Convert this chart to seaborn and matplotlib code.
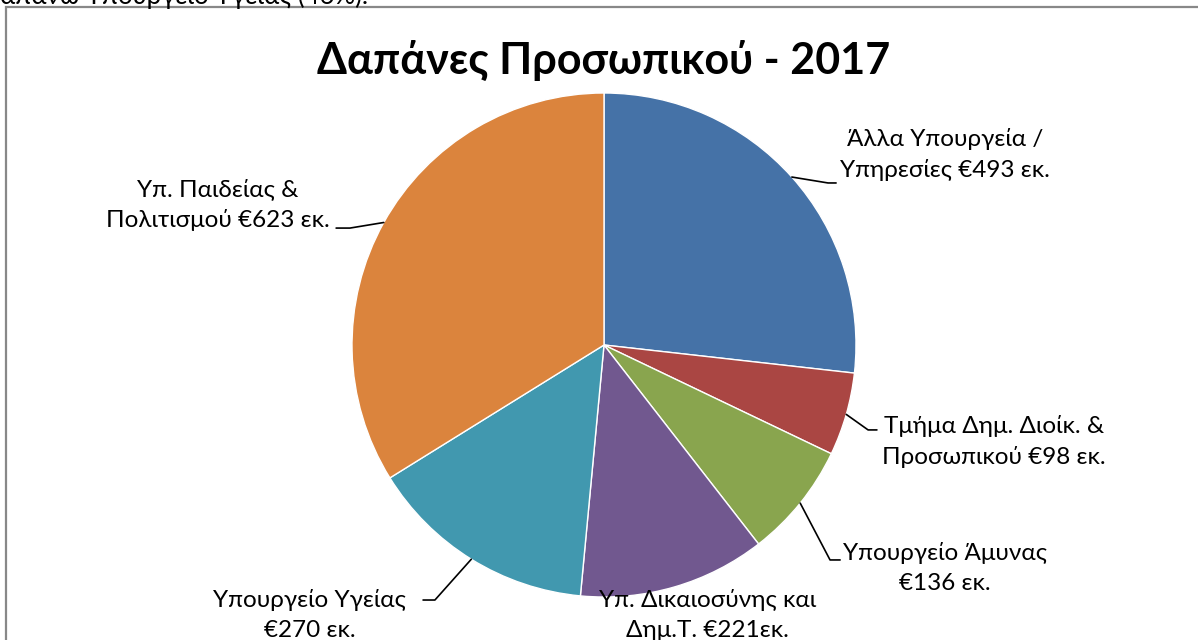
import numpy as np
import matplotlib
matplotlib.use('Agg')
import matplotlib.pyplot as plt
import seaborn as sns
from matplotlib.patches import Rectangle

# data
labels = ['Άλλα Υπουργεία /\nΥπηρεσίες €493 εκ.',
          'Τμήμα Δημ. Διοίκ. &\nΠροσωπικού €98 εκ.',
          'Υπουργείο Άμυνας\n€136 εκ.',
          'Υπ. Δικαιοσύνης και\nΔημ.Τ. €221εκ.',
          'Υπουργείο Υγείας\n€270 εκ.',
          'Υπ. Παιδείας &\nΠολιτισμού €623 εκ.']
values = [493, 98, 136, 221, 270, 623]
colors = ['#4572A7', '#AA4643', '#89A54E', '#71588F', '#4198AF', '#DB843D']
title = 'Δαπάνες Προσωπικού - 2017'

# label layout (text centre, leader elbow, leader end) in pie units
label_pos = [(1.353, 0.754), (1.548, -0.381), (1.353, -0.885),
             (0.409, -1.071), (-1.167, -1.071), (-1.532, 0.556)]
elbows = [((0.889, 0.643), (0.921, 0.643)),
          ((1.048, -0.337), (1.083, -0.337)),
          ((0.897, -0.853), (0.937, -0.853)),
          None,
          ((-0.671, -1.012), (-0.718, -1.012)),
          ((-1.008, 0.464), (-1.063, 0.464))]

sns.set_theme(style='white')
plt.rcParams['font.family'] = ['Lato', 'Open Sans', 'DejaVu Sans']

W, H = 1198, 640
fig = plt.figure(figsize=(W / 100, H / 100), dpi=100)
fig.patch.set_facecolor('white')

# chart frame
fig.add_artist(Rectangle((6 / W, -0.1), 1.2, (H - 7) / H + 0.1, transform=fig.transFigure,
                         fill=False, edgecolor='#888888', linewidth=1.6))

# text of the document above the chart (cut off)
fig.text(0 / W, 1 - 4 / H, 'απάνω Υπουργείο Υγείας (46%).', fontsize=18.5,
         va='baseline', ha='left', color='black')

cx, cy, r = 604, 345, 252
ax = fig.add_axes([(cx - r) / W, (H - cy - r) / H, 2 * r / W, 2 * r / H])
wedges, _ = ax.pie(values, colors=colors, startangle=90, counterclock=False,
                   radius=1, wedgeprops=dict(edgecolor='white', linewidth=1.0))
ax.set_xlim(-1, 1)
ax.set_ylim(-1, 1)
ax.set_aspect('equal')
ax.axis('off')

for w, lab, pos, el in zip(wedges, labels, label_pos, elbows):
    ax.text(pos[0], pos[1], lab, ha='center', va='center', fontsize=17.5,
            linespacing=1.5, color='black', clip_on=False)
    if el is not None:
        ang = np.deg2rad((w.theta1 + w.theta2) / 2)
        xs = [np.cos(ang), el[0][0], el[1][0]]
        ys = [np.sin(ang), el[0][1], el[1][1]]
        ax.plot(xs, ys, color='black', linewidth=1.2, clip_on=False)

fig.text(604 / W, 1 - 60 / H, title, ha='center', va='center', fontsize=31,
         fontweight='bold', color='black')

fig.savefig('out.png', dpi=100, facecolor='white')
